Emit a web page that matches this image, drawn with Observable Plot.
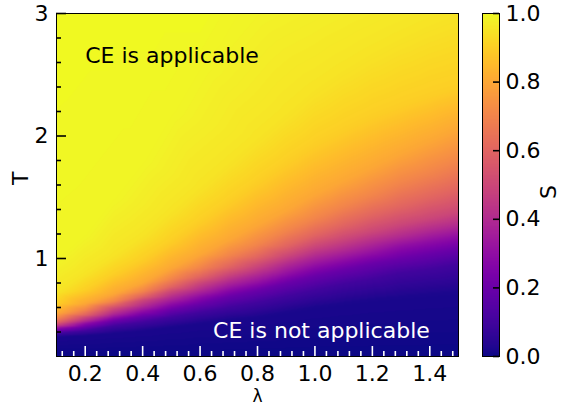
<!DOCTYPE html>
<html>
<head>
<meta charset="utf-8">
<script src="https://cdn.jsdelivr.net/npm/d3@7"></script>
<script src="https://cdn.jsdelivr.net/npm/@observablehq/plot@0.6"></script>
<style>
  html, body { margin: 0; padding: 0; background: #fff; }
  #chart { position: relative; width: 561px; height: 406px; }
  #chart svg { position: absolute; left: 0; top: 0; }
</style>
</head>
<body>
<div id="chart"></div>
<script>
// Coupling strength λ (columns of the map)
const lambdas = [0.1, 0.2, 0.3, 0.4, 0.5, 0.6, 0.7, 0.8, 0.9, 1.0, 1.1, 1.2, 1.3, 1.4, 1.5];

// Temperature T at which S reaches a given level, one value per λ column
const T_S02 = [0.36, 0.37, 0.39, 0.41, 0.44, 0.47, 0.50, 0.52, 0.56, 0.60, 0.63, 0.66, 0.68, 0.70, 0.72];
const T_S10 = [0.39, 0.41, 0.45, 0.48, 0.52, 0.56, 0.60, 0.64, 0.69, 0.74, 0.79, 0.83, 0.88, 0.91, 0.95];
const T_S20 = [0.41, 0.44, 0.49, 0.53, 0.58, 0.63, 0.69, 0.74, 0.80, 0.86, 0.91, 0.96, 1.00, 1.04, 1.08];
const T_S30 = [0.43, 0.47, 0.52, 0.57, 0.63, 0.69, 0.75, 0.80, 0.87, 0.94, 0.99, 1.04, 1.10, 1.14, 1.18];
const T_S40 = [0.445, 0.49, 0.55, 0.61, 0.68, 0.74, 0.81, 0.87, 0.95, 1.02, 1.07, 1.13, 1.18, 1.23, 1.27];
const T_S50 = [0.46, 0.52, 0.59, 0.66, 0.73, 0.80, 0.87, 0.94, 1.02, 1.10, 1.16, 1.22, 1.28, 1.33, 1.38];
const T_S60 = [0.48, 0.54, 0.62, 0.69, 0.77, 0.85, 0.93, 1.01, 1.10, 1.19, 1.27, 1.35, 1.42, 1.49, 1.56];
const T_S70 = [0.51, 0.58, 0.65, 0.73, 0.83, 0.92, 1.02, 1.11, 1.22, 1.32, 1.42, 1.51, 1.61, 1.69, 1.78];
const T_S80 = [0.55, 0.63, 0.71, 0.80, 0.92, 1.03, 1.15, 1.27, 1.39, 1.52, 1.63, 1.74, 1.85, 1.95, 2.05];
const T_S90 = [0.63, 0.74, 0.87, 0.99, 1.14, 1.30, 1.46, 1.62, 1.78, 1.93, 2.05, 2.16, 2.25, 2.33, 2.40];
const T_S95 = [0.72, 0.87, 1.02, 1.18, 1.38, 1.58, 1.78, 1.98, 2.18, 2.38, 2.54, 2.68, 2.80, 2.91, null];
const T_S99 = [1.00, 1.20, 1.50, 1.80, 2.20, 2.60, null, null, null, null, null, null, null, null, null];

// S along the lower (T = 0.2) and upper (T = 3) edges
const S_bottom = [0, 0, 0, 0, 0, 0, 0, 0, 0, 0, 0, 0, 0, 0, 0];
const S_top = [1, 1, 1, 1, 1, 1, 0.99, 0.985, 0.98, 0.975, 0.97, 0.965, 0.96, 0.955, 0.95];

const isolines = [
  [0.02, T_S02], [0.1, T_S10], [0.2, T_S20], [0.3, T_S30], [0.4, T_S40], [0.5, T_S50],
  [0.6, T_S60], [0.7, T_S70], [0.8, T_S80], [0.9, T_S90], [0.95, T_S95], [0.99, T_S99]
];

// Axis ticks
const xMajor = [0.2, 0.4, 0.6, 0.8, 1.0, 1.2, 1.4];
const xMinor = [0.12, 0.16, 0.24, 0.28, 0.32, 0.36, 0.44, 0.48, 0.52, 0.56, 0.64, 0.68, 0.72, 0.76,
                0.84, 0.88, 0.92, 0.96, 1.04, 1.08, 1.12, 1.16, 1.24, 1.28, 1.32, 1.36, 1.44, 1.48];
const yMajor = [1, 2, 3];
const yMinor = [0.4, 0.6, 0.8, 1.2, 1.4, 1.6, 1.8, 2.2, 2.4, 2.6, 2.8];
const barTicks = [0, 0.2, 0.4, 0.6, 0.8, 1.0];

const labelApplicable = "CE is applicable";
const labelNotApplicable = "CE is not applicable";

// Scattered samples (λ, T, S) for the raster
const samples = [];
lambdas.forEach((lam, i) => {
  samples.push({lambda: lam, T: 0.2, S: S_bottom[i]});
  for (const [s, ts] of isolines) {
    if (ts[i] != null) samples.push({lambda: lam, T: ts[i], S: s});
  }
  samples.push({lambda: lam, T: 3, S: S_top[i]});
});

const W = 561, H = 406;
const FONT = "'DejaVu Sans', sans-serif";
const FS = 22;
const frameW = 402, frameH = 343;

const main = Plot.plot({
  width: W, height: H,
  marginLeft: 56, marginRight: 103, marginTop: 13, marginBottom: 50,
  style: {fontFamily: FONT, fontSize: FS + "px", color: "black", background: "transparent"},
  x: {domain: [0.1, 1.5]},
  y: {domain: [0.2, 3]},
  color: {type: "linear", scheme: "plasma", domain: [0, 1]},
  marks: [
    Plot.raster(samples, {x: "lambda", y: "T", fill: "S", interpolate: "barycentric",
                          x1: 0.1, x2: 1.5, y1: 0.2, y2: 3}),
    Plot.text([labelApplicable], {x: 0.2, y: 2.6, text: d => d, textAnchor: "start",
                                  lineAnchor: "bottom", fill: "black", fontSize: FS}),
    Plot.text([labelNotApplicable], {x: 1.4, y: 0.35, text: d => d, textAnchor: "end",
                                     lineAnchor: "bottom", fill: "white", fontSize: FS}),
    Plot.tickX(xMinor, {x: d => d, stroke: "white", strokeWidth: 1.6, insetTop: frameH - 5}),
    Plot.tickX(xMajor, {x: d => d, stroke: "white", strokeWidth: 1.6, insetTop: frameH - 10}),
    Plot.tickY(yMinor, {y: d => d, stroke: "black", strokeWidth: 1.6, insetRight: frameW - 5}),
    Plot.tickY(yMajor, {y: d => d, stroke: "black", strokeWidth: 1.6, insetRight: frameW - 10}),
    Plot.axisX(xMajor, {tickSize: 0, tickPadding: 9, tickFormat: ".1f", label: null,
                        fontSize: FS, fill: "black"}),
    Plot.axisY(yMajor, {tickSize: 0, tickPadding: 8, tickFormat: "d", label: null,
                        fontSize: FS, fill: "black"}),
    // axis title λ: baseline just above the bottom edge
    Plot.text(["λ"], {frameAnchor: "bottom", dy: 45.8, lineAnchor: "bottom", fontSize: 17, fill: "black"}),
    Plot.text(["T"], {frameAnchor: "left", dx: -36, rotate: -90, lineAnchor: "middle",
                      fontSize: FS, fill: "black"}),
    Plot.frame({stroke: "black", strokeWidth: 1})
  ]
});

// Colour bar for S
const bar = Plot.plot({
  width: W, height: H,
  marginLeft: 482, marginRight: 62, marginTop: 13, marginBottom: 50,
  style: {fontFamily: FONT, fontSize: FS + "px", color: "black", background: "transparent"},
  x: {domain: [0, 1], axis: null},
  y: {domain: [0, 1], axis: null},
  color: {type: "linear", scheme: "plasma", domain: [0, 1]},
  marks: [
    Plot.raster({fill: (x, y) => y, x1: 0, x2: 1, y1: 0, y2: 1}),
    Plot.tickY(barTicks, {y: d => d, stroke: "black", strokeWidth: 1.6, insetLeft: 17 - 6}),
    Plot.axisY(barTicks, {anchor: "right", tickSize: 0, tickPadding: 6, tickFormat: ".1f",
                          label: null, fontSize: FS, fill: "black"}),
    Plot.text(["S"], {frameAnchor: "right", dx: 49, rotate: -90, lineAnchor: "middle",
                      fontSize: FS, fill: "black"}),
    Plot.frame({stroke: "black", strokeWidth: 1})
  ]
});

const chart = document.getElementById("chart");
chart.appendChild(main);
chart.appendChild(bar);
</script>
</body>
</html>
